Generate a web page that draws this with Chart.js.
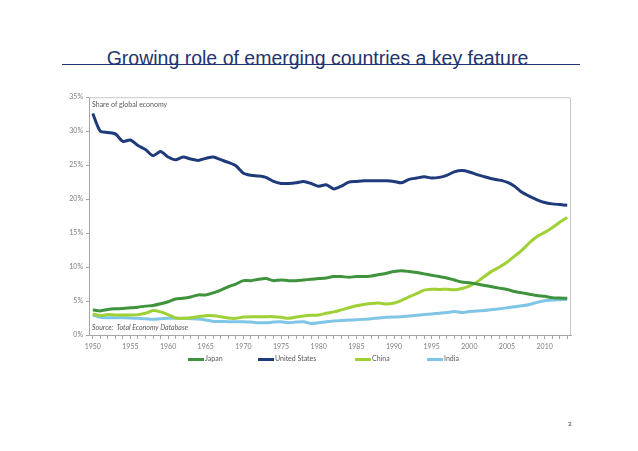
<!DOCTYPE html>
<html>
<head>
<meta charset="utf-8">
<title>Growing role of emerging countries</title>
<script src="https://cdn.jsdelivr.net/npm/chart.js@4.4.1/dist/chart.umd.min.js"></script>
<style>
  body { margin: 0; background: #fff; width: 638px; height: 451px; position: relative; overflow: hidden; font-family: 'Liberation Sans', Arial, sans-serif; }
  #title { position: absolute; left: 0; width: 635px; top: 47px; text-align: center; font-size: 19.5px; color: #1f3570; }
  #rule { position: absolute; left: 62px; width: 518px; top: 64px; height: 1px; background: #1f3570; }
  #chart-box { position: absolute; left: 40px; top: 90px; width: 545px; height: 270px; }
  .note { position: absolute; font-family: Lato, 'Open Sans', sans-serif; font-size: 7px; color: #595959; white-space: nowrap; }
  #legend { position: absolute; top: 354px; left: 0; width: 638px; height: 10px; font-family: Lato, 'Open Sans', sans-serif; font-size: 7px; color: #595959; }
  #legend span.item { position: absolute; white-space: nowrap; }
  #legend i { display: inline-block; width: 16px; height: 3px; vertical-align: middle; margin-right: 1px; }
  #page-num { position: absolute; left: 568px; top: 421px; font-size: 6px; color: #333; }
</style>
</head>
<body>
<div id="title">Growing role of emerging countries a key feature</div>
<div id="rule"></div>
<div id="chart-box"><canvas id="my-chart"></canvas></div>
<div class="note" style="left:92px; top:100px;">Share of global economy</div>
<div class="note" style="left:92px; top:323px; font-style:italic;">Source:&nbsp; Total Economy Database</div>
<div id="legend"></div>
<div id="page-num">3</div>

<script>
'use strict';

// ************* Data **************
let years = [];
for (let y = 1950; y <= 2013; y++) {
  years.push(String(y));
}

let japan = [
  3.7, 3.55, 3.75, 3.85, 3.9, 4.0, 4.1, 4.25, 4.35, 4.6,
  4.9, 5.3, 5.4, 5.6, 5.9, 5.9, 6.2, 6.6, 7.1, 7.5,
  8.0, 8.0, 8.2, 8.3, 8.0, 8.1, 8.0, 8.0, 8.1, 8.2,
  8.3, 8.4, 8.6, 8.6, 8.5, 8.6, 8.6, 8.7, 8.9, 9.1,
  9.35, 9.45, 9.35, 9.2, 9.0, 8.8, 8.6, 8.4, 8.1, 7.8,
  7.7, 7.5, 7.3, 7.1, 6.9, 6.7, 6.4, 6.2, 6.0, 5.8,
  5.7, 5.5, 5.45, 5.4
];

let unitedStates = [
  32.6, 30.0, 29.8, 29.6, 28.5, 28.7, 27.9, 27.3, 26.4, 27.0,
  26.2, 25.8, 26.2, 25.9, 25.7, 26.0, 26.2, 25.8, 25.4, 24.9,
  23.8, 23.5, 23.4, 23.2, 22.6, 22.3, 22.3, 22.4, 22.6, 22.3,
  21.9, 22.1, 21.5, 21.9, 22.5, 22.6, 22.7, 22.7, 22.7, 22.7,
  22.6, 22.4, 22.9, 23.1, 23.3, 23.1, 23.2, 23.5, 24.0, 24.2,
  24.0, 23.6, 23.3, 23.0, 22.8, 22.5, 21.9, 21.0, 20.4, 19.9,
  19.5, 19.3, 19.2, 19.1
];

let china = [
  3.1, 2.85, 3.0, 2.95, 2.95, 2.95, 3.0, 3.2, 3.6, 3.4,
  3.0, 2.5, 2.45, 2.55, 2.7, 2.85, 2.85, 2.7, 2.5, 2.45,
  2.65, 2.7, 2.7, 2.7, 2.7, 2.6, 2.45, 2.65, 2.8, 2.9,
  2.95, 3.2, 3.4, 3.7, 4.0, 4.3, 4.5, 4.65, 4.7, 4.55,
  4.7, 5.1, 5.6, 6.1, 6.6, 6.75, 6.7, 6.75, 6.65, 6.85,
  7.2, 7.8, 8.6, 9.4, 10.0, 10.7, 11.6, 12.5, 13.6, 14.5,
  15.1, 15.8, 16.6, 17.3
];

let india = [
  2.95, 2.6, 2.55, 2.55, 2.55, 2.5, 2.45, 2.4, 2.3, 2.4,
  2.45, 2.45, 2.45, 2.4, 2.35, 2.2, 2.0, 2.0, 1.95, 1.95,
  1.95, 1.9, 1.8, 1.8, 1.9, 1.95, 1.8, 1.9, 1.95, 1.7,
  1.8, 1.95, 2.05, 2.15, 2.2, 2.25, 2.3, 2.4, 2.5, 2.6,
  2.65, 2.7, 2.8, 2.9, 3.0, 3.1, 3.2, 3.3, 3.45, 3.3,
  3.45, 3.55, 3.6, 3.75, 3.85, 4.0, 4.15, 4.3, 4.5, 4.8,
  5.05, 5.15, 5.2, 5.25
];

let seriesNames = ['Japan', 'United States', 'China', 'India'];
let seriesColors = ['#3f933c', '#1f3a7a', '#9fd035', '#7fc6e6'];
let yMax = 35;
let yStep = 5;

// ************* Legend (custom so the gaps match) **************
let legendLeft = [188, 258, 355, 427];
let legendElem = document.getElementById('legend');
for (let i = 0; i < seriesNames.length; i++) {
  let item = document.createElement('span');
  item.className = 'item';
  item.style.left = legendLeft[i] + 'px';
  item.innerHTML = '<i style="background:' + seriesColors[i] + '"></i>' + seriesNames[i];
  legendElem.appendChild(item);
}

// ************* Plot frame plugin **************
let frame = {
  id: 'frame',
  beforeDatasetsDraw(chart) {
    let a = chart.chartArea;
    let ctx = chart.ctx;
    ctx.save();
    ctx.strokeStyle = '#c8c8c8';
    ctx.lineWidth = 1;
    ctx.beginPath();
    ctx.moveTo(a.left, a.top + 0.5);
    ctx.lineTo(a.right - 0.5, a.top + 0.5);
    ctx.lineTo(a.right - 0.5, a.bottom);
    ctx.stroke();
    ctx.restore();
  }
};

// ************* Chart **************
let datasets = [japan, unitedStates, china, india].map(function (vals, i) {
  return {
    label: seriesNames[i],
    data: vals,
    borderColor: seriesColors[i],
    backgroundColor: seriesColors[i],
    borderWidth: 3,
    pointRadius: 0,
    tension: 0.25
  };
});

let tickFont = { family: 'Lato', size: 7 };

new Chart(document.getElementById('my-chart'), {
  type: 'line',
  data: { labels: years, datasets: datasets },
  options: {
    responsive: true,
    maintainAspectRatio: false,
    animation: false,
    layout: { padding: { top: 7, right: 14, left: 0, bottom: 0 } },
    plugins: { legend: { display: false }, tooltip: { enabled: false } },
    scales: {
      x: {
        offset: true,
        afterFit: function (scale) { scale.height = 25; },
        border: { color: '#a6a6a6' },
        grid: { drawOnChartArea: false, tickLength: 4, color: '#a6a6a6', offset: false },
        ticks: {
          autoSkip: false,
          maxRotation: 0,
          padding: 4,
          color: '#7f7f7f',
          font: tickFont,
          callback: function (val, idx) {
            let yr = Number(years[idx]);
            return yr % 5 === 0 ? String(yr) : '';
          }
        }
      },
      y: {
        min: 0,
        max: yMax,
        afterFit: function (scale) { scale.width = 49; },
        border: { color: '#a6a6a6' },
        grid: { drawOnChartArea: false, tickLength: 3, color: '#a6a6a6' },
        ticks: {
          stepSize: yStep,
          padding: 3,
          color: '#7f7f7f',
          font: tickFont,
          callback: function (v) { return v + '%'; }
        }
      }
    }
  },
  plugins: [frame]
});
</script>
</body>
</html>
